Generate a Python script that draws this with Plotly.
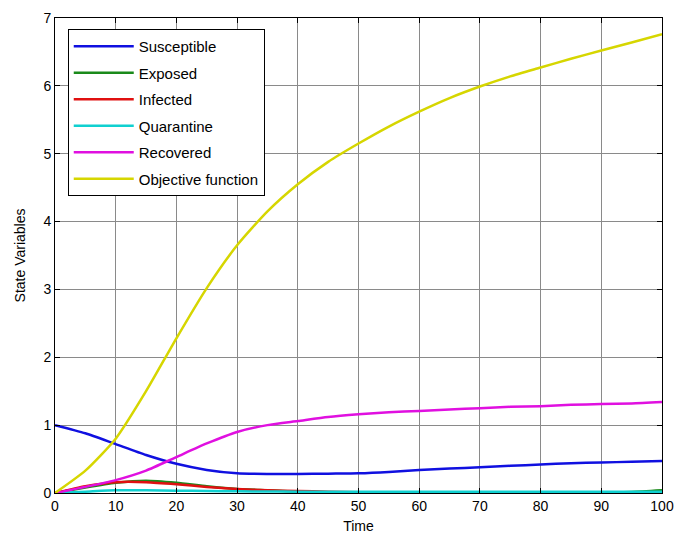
import plotly.graph_objects as go

# Time grid and state trajectories
time = [0, 5, 10, 15, 20, 25, 30, 35, 40, 45, 50, 55, 60, 65, 70, 75, 80, 85, 90, 95, 100]
susceptible = [1.0, 0.88, 0.72, 0.56, 0.43, 0.34, 0.29, 0.28, 0.28, 0.285, 0.29, 0.31, 0.34, 0.36, 0.38, 0.40, 0.42, 0.44, 0.45, 0.46, 0.47]
exposed = [0.0, 0.08, 0.15, 0.18, 0.15, 0.10, 0.06, 0.04, 0.02, 0.01, 0.005, 0.004, 0.004, 0.004, 0.004, 0.005, 0.006, 0.007, 0.01, 0.015, 0.04]
infected = [0.0, 0.10, 0.16, 0.16, 0.13, 0.09, 0.06, 0.04, 0.03, 0.02, 0.01, 0.006, 0.004, 0.003, 0.003, 0.003, 0.003, 0.003, 0.003, 0.003, 0.003]
quarantine = [0.0, 0.02, 0.04, 0.04, 0.035, 0.03, 0.025, 0.022, 0.02, 0.02, 0.02, 0.02, 0.02, 0.02, 0.02, 0.02, 0.02, 0.02, 0.02, 0.02, 0.02]
recovered = [0.0, 0.09, 0.19, 0.33, 0.53, 0.73, 0.90, 1.00, 1.06, 1.12, 1.16, 1.19, 1.21, 1.23, 1.25, 1.27, 1.28, 1.30, 1.31, 1.32, 1.34]
objective = [0.0, 0.33, 0.80, 1.50, 2.28, 3.02, 3.65, 4.15, 4.55, 4.88, 5.15, 5.40, 5.62, 5.82, 5.99, 6.14, 6.27, 6.40, 6.52, 6.64, 6.76]

series = [
    ("Susceptible", susceptible, "#1010e0"),
    ("Exposed", exposed, "#1a8a1a"),
    ("Infected", infected, "#e01010"),
    ("Quarantine", quarantine, "#10d0d0"),
    ("Recovered", recovered, "#e010e0"),
    ("Objective function", objective, "#d6d600"),
]

x_ticks = list(range(0, 101, 10))
y_ticks = list(range(0, 8))

fig = go.Figure()
for i, (name, values, color) in enumerate(series):
    fig.add_trace(go.Scatter(
        x=time, y=values, name=name, mode="lines",
        line=dict(color=color, width=2.5, shape="spline", smoothing=0.6),
        legendgroup=f"g{i}",
    ))

font_family = "Liberation Sans, Arial, sans-serif"
axis_common = dict(
    showline=True, linecolor="black", linewidth=1, mirror="ticks",
    ticks="inside", ticklen=5, tickcolor="black",
    showgrid=True, gridcolor="#8a8a8a", gridwidth=1,
    zeroline=False, automargin=False,
    tickfont=dict(family=font_family, size=14, color="black"),
)

fig.update_xaxes(
    range=[0, 100], tickvals=x_ticks,
    title=dict(text="Time", font=dict(family=font_family, size=14, color="black"), standoff=8),
    **axis_common,
)
fig.update_yaxes(
    range=[0, 7], tickvals=y_ticks,
    title=dict(text="State Variables", font=dict(family=font_family, size=14, color="black"), standoff=14),
    **axis_common,
)

fig.update_layout(
    width=678, height=541,
    margin=dict(l=55, r=16, t=18, b=48),
    paper_bgcolor="white", plot_bgcolor="white",
    showlegend=True,
    legend=dict(
        x=0.021, y=0.977, xanchor="left", yanchor="top",
        bgcolor="white", bordercolor="black", borderwidth=1,
        font=dict(family=font_family, size=15, color="black"),
        tracegroupgap=4, itemwidth=60,
    ),
)

fig.write_html("out.html")
